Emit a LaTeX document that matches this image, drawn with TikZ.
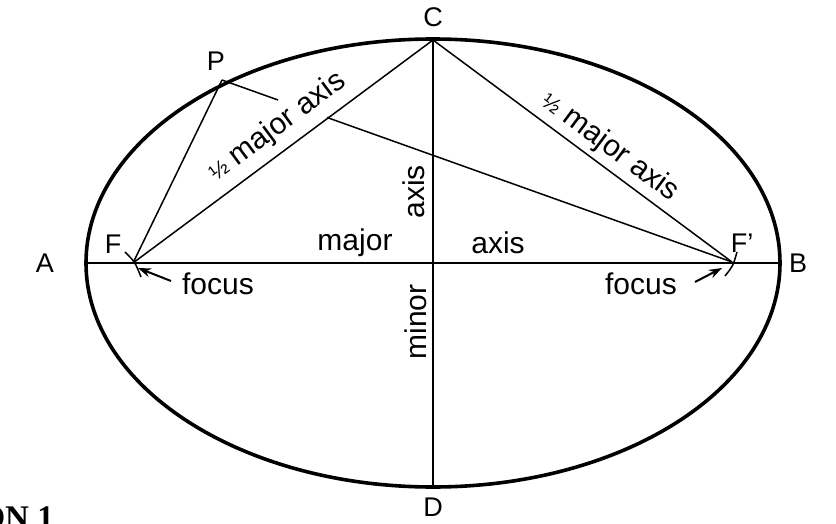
\documentclass[tikz,border=0pt]{standalone}
\usepackage{fontspec}
\setmainfont{Liberation Sans}
\newfontfamily\capfont{Liberation Serif}
\usetikzlibrary{arrows.meta,calc}
\begin{document}
\begin{tikzpicture}[x=1pt,y=-1pt,
  thinline/.style={line width=1.5pt},
  axisline/.style={line width=1.9pt},
  txt/.style={font=\fontsize{30}{32}\selectfont,inner sep=0pt},
  lbl/.style={font=\fontsize{27}{29}\selectfont,inner sep=0pt},
  arr/.style={line width=2pt,-{Stealth[length=13pt,width=9pt]}}]
\useasboundingbox (0,0) rectangle (836,524);
% points
\coordinate (O) at (433,263);
\coordinate (A) at (86,263);
\coordinate (B) at (780,263);
\coordinate (C) at (433,40);
\coordinate (D) at (433,487);
\coordinate (F) at (133,263);
\coordinate (Fp) at (732,262);
\coordinate (P) at (222,80);
% ellipse
\draw[line width=3.6pt] (O) ellipse [x radius=347, y radius=224];
% axes
\draw[axisline] (A) -- (B);
\draw[axisline] (C) -- (D);
% lines
\draw[thinline] (P) -- (F);
\draw[thinline] (F) -- (C);
\draw[thinline] (C) -- (Fp);
\coordinate (g1) at ($(P)!0.11!(Fp)$);
\coordinate (g2) at ($(P)!0.206!(Fp)$);
\draw[thinline] (P) -- (g1);
\draw[thinline] (g2) -- (Fp);
% focus marks
\draw[thinline] (125,252) .. controls (135,262) .. (141,277);
\draw[thinline] (737,252) .. controls (733,266) .. (725,276);
% labels
\node[lbl] (lA) at (45,263) {A};
\node[lbl] (lB) at (798,263) {B};
\node[lbl] (lC) at (433,17) {C};
\node[lbl] (lD) at (433,507) {D};
\node[lbl] (lP) at (216,61) {P};
\node[lbl] (lF) at (113,244) {F};
\node[lbl] (lFp) at (742,243) {F’};
\node[txt] (maj) at (355,243) {major};
\node[txt] (ax1) at (498,243) {axis};
\node[txt,rotate=90] (ax2) at (414,192) {axis};
\node[txt,rotate=90] (mn) at (416,322) {minor};
\node[txt] (foc1) at (218,284) {focus};
\node[txt] (foc2) at (641,284) {focus};
\node[txt,rotate=36.6] (h1) at (277,127) {\fontsize{22}{22}\selectfont ½\fontsize{30}{32}\selectfont{} major axis};
\node[txt,rotate=-36.6] (h2) at (610,147) {\fontsize{22}{22}\selectfont ½\fontsize{30}{32}\selectfont{} major axis};
\coordinate (t1) at (171,281);
\coordinate (h1a) at (138,268);
\coordinate (t2) at (695,282);
\coordinate (h2a) at (722,268);
\draw[arr] (t1) -- (h1a);
\draw[arr] (t2) -- (h2a);
\node[font=\capfont\bfseries\fontsize{33}{35}\selectfont,inner sep=0pt,anchor=base east] (cap) at (54,528) {ON 1};
\end{tikzpicture}
\end{document}
